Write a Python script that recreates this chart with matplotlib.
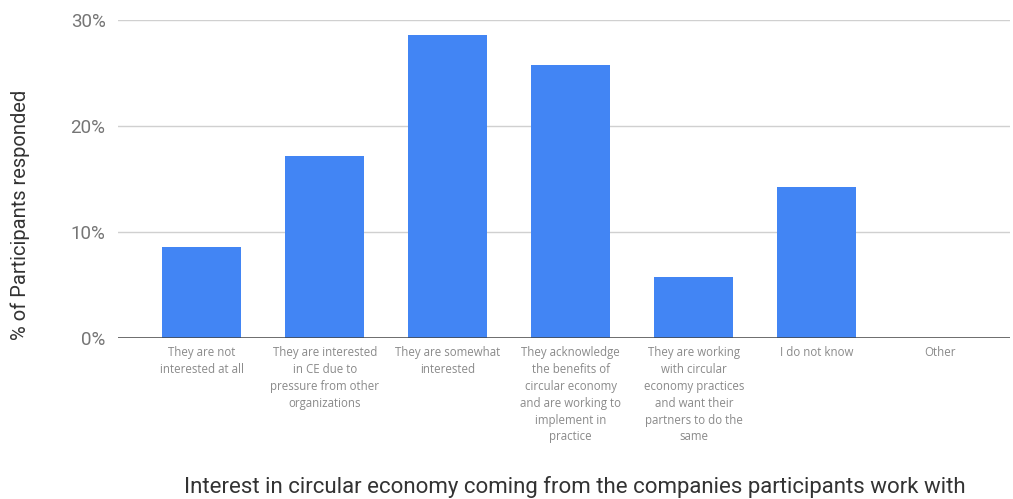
import matplotlib.pyplot as plt
from matplotlib.ticker import PercentFormatter

categories = [
    "They are not\ninterested at all",
    "They are interested\nin CE due to\npressure from other\norganizations",
    "They are somewhat\ninterested",
    "They acknowledge\nthe benefits of\ncircular economy\nand are working to\nimplement in\npractice",
    "They are working\nwith circular\neconomy practices\nand want their\npartners to do the\nsame",
    "I do not know",
    "Other",
]
# share of participants, in percent
share = [8.57, 17.14, 28.57, 25.71, 5.71, 14.29, 0.0]

fig = plt.figure(figsize=(10.13, 4.99), dpi=100)
ax = fig.add_axes([118 / 1013, 161 / 499, 892 / 1013, 318 / 499])

x = list(range(len(categories)))
ax.bar(x, share, width=0.64, color="#4285f4", zorder=3)

ax.set_xlim(-0.68, 6.57)
ax.set_ylim(0, 30)
ax.set_yticks([0, 10, 20, 30])
ax.yaxis.set_major_formatter(PercentFormatter(decimals=0))
ax.grid(axis="y", color="#d0d0d0", linewidth=1, zorder=0)
ax.axhline(0, color="#444444", linewidth=1.8, zorder=4)

for s in ax.spines.values():
    s.set_visible(False)
ax.tick_params(axis="y", length=0, pad=9, labelsize=13.5, labelcolor="#757575")
ax.tick_params(axis="x", length=0, pad=6)
for lab in ax.get_yticklabels():
    lab.set_fontfamily("Roboto")

ax.set_xticks(x)
ax.set_xticklabels(categories, fontsize=8.3, color="#8a8a8a", family="Open Sans",
                   linespacing=1.38, va="top")

fig.text(20 / 1013, 1 - 215 / 499, "% of Participants responded",
         rotation=90, ha="center", va="center", fontsize=14.5, family="Roboto",
         color="#333333")
fig.text(575 / 1013, 1 - 487 / 499,
         "Interest in circular economy coming from the companies participants work with",
         ha="center", va="center", fontsize=16, family="Roboto", color="#333333")

fig.savefig("out.png", dpi=100)
